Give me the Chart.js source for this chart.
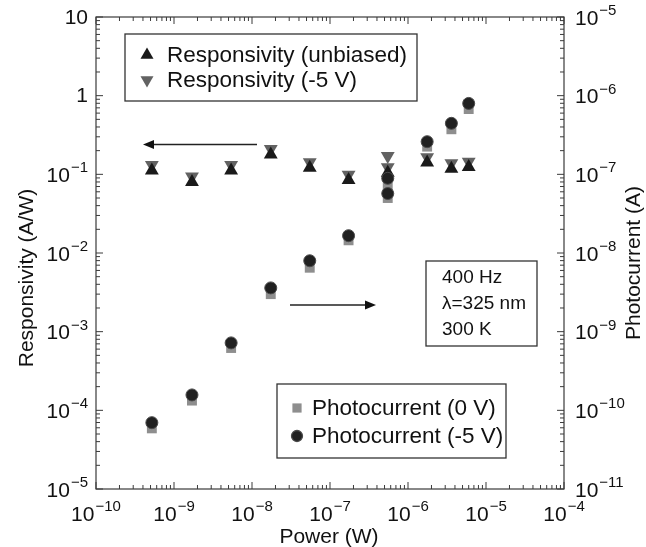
<!DOCTYPE html>
<html>
<head>
<meta charset="utf-8">
<script src="https://cdn.jsdelivr.net/npm/chart.js@4"></script>
<style>
html, body { margin: 0; padding: 0; background: #fff; }
#wrap { width: 646px; height: 547px; }
</style>
</head>
<body>
<div id="wrap"><canvas id="chart" width="646" height="547"></canvas></div>
<script>
// incident power (W)
const power = [5.2e-10, 1.7e-9, 5.4e-9, 1.74e-8, 5.5e-8, 1.73e-7, 5.5e-7, 1.76e-6, 3.6e-6, 6.0e-6];
// responsivity (A/W), left axis
const respUnbiased = [0.112, 0.080, 0.112, 0.179, 0.121, 0.085, 0.105, 0.141, 0.118, 0.124];
const respMinus5 = [0.131, 0.094, 0.131, 0.210, 0.142, 0.099, 0.123, 0.165, 0.138, 0.145];
// second -5 V reading at 5.5e-7 W
const extraPower = [5.5e-7];
const respMinus5Extra = [0.171];
// photocurrent (A), right axis
const photo0V = [5.9e-11, 1.33e-10, 6.2e-10, 3.0e-9, 6.5e-9, 1.45e-8, 5.0e-8, 2.25e-7, 3.74e-7, 6.76e-7];
const photoMinus5 = [6.97e-11, 1.57e-10, 7.2e-10, 3.6e-9, 7.97e-9, 1.66e-8, 5.7e-8, 2.6e-7, 4.45e-7, 7.97e-7];
const photo0VExtra = [7.4e-8];
const photoMinus5Extra = [8.9e-8];

const legendTop = ['Responsivity (unbiased)', 'Responsivity (-5 V)'];
const legendBottom = ['Photocurrent (0 V)', 'Photocurrent (-5 V)'];
const noteLines = ['400 Hz', '\u03bb=325 nm', '300 K'];
const xTitle = 'Power (W)';
const yTitle = 'Responsivity (A/W)';
const y2Title = 'Photocurrent (A)';

const FONT = '"Liberation Sans", Arial, Helvetica, sans-serif';

function pts(xs, ys) {
    return xs.map((x, i) => ({ x: x, y: ys[i] }));
}

// tick positions on a log scale, found through the scale itself
function logTicks(scale) {
    const out = [];
    const lo = Math.floor(Math.log10(scale.min) + 1e-9);
    const hi = Math.ceil(Math.log10(scale.max) - 1e-9);
    for (let e = lo; e <= hi; e++) {
        for (let m = 1; m < 10; m++) {
            const v = m * Math.pow(10, e);
            if (v < scale.min * 0.999 || v > scale.max * 1.001) continue;
            out.push({ exp: e, major: m === 1, px: scale.getPixelForValue(v) });
        }
    }
    return out;
}

// "10" with a raised exponent
function drawPow(ctx, exp, x, y, align) {
    let base = '10', ex = null;
    if (exp === 0) base = '1';
    else if (exp !== 1) ex = '\u2212' + Math.abs(exp);
    ctx.font = '21px ' + FONT;
    const bw = ctx.measureText(base).width;
    ctx.font = '15px ' + FONT;
    const ew = ex ? ctx.measureText(ex).width + 1 : 0;
    const w = bw + ew;
    let x0 = x;
    if (align === 'right') x0 = x - w;
    else if (align === 'center') x0 = x - w / 2;
    const yb = ex ? y + 2 : y + 1;
    ctx.textAlign = 'left';
    ctx.textBaseline = 'middle';
    ctx.font = '21px ' + FONT;
    ctx.fillText(base, x0, yb);
    if (ex) {
        ctx.font = '15px ' + FONT;
        ctx.fillText(ex, x0 + bw + 1, yb - 8);
    }
}

function arrow(ctx, x1, y, x2) {
    const dir = x2 > x1 ? 1 : -1;
    ctx.beginPath();
    ctx.moveTo(x1, y);
    ctx.lineTo(x2 - dir * 8, y);
    ctx.stroke();
    ctx.beginPath();
    ctx.moveTo(x2, y);
    ctx.lineTo(x2 - dir * 11, y - 4.5);
    ctx.lineTo(x2 - dir * 11, y + 4.5);
    ctx.closePath();
    ctx.fill();
}

const decorations = {
    id: 'decorations',
    afterDraw(chart) {
        const ctx = chart.ctx;
        const a = chart.chartArea;
        const sx = chart.scales.x, sy = chart.scales.y, sy2 = chart.scales.y2;
        ctx.save();
        ctx.strokeStyle = '#3a3a3a';
        ctx.fillStyle = '#111';
        ctx.lineWidth = 1.2;
        ctx.strokeRect(a.left, a.top, a.right - a.left, a.bottom - a.top);

        // inward ticks on all four sides
        ctx.lineWidth = 1;
        ctx.beginPath();
        logTicks(sx).forEach(t => {
            const len = t.major ? 7 : 4;
            ctx.moveTo(t.px, a.bottom); ctx.lineTo(t.px, a.bottom - len);
            ctx.moveTo(t.px, a.top); ctx.lineTo(t.px, a.top + len);
        });
        logTicks(sy).forEach(t => {
            const len = t.major ? 7 : 4;
            ctx.moveTo(a.left, t.px); ctx.lineTo(a.left + len, t.px);
        });
        logTicks(sy2).forEach(t => {
            const len = t.major ? 7 : 4;
            ctx.moveTo(a.right, t.px); ctx.lineTo(a.right - len, t.px);
        });
        ctx.stroke();

        // tick labels
        ctx.fillStyle = '#111';
        logTicks(sx).filter(t => t.major).forEach(t => drawPow(ctx, t.exp, t.px, a.bottom + 24, 'center'));
        logTicks(sy).filter(t => t.major).forEach(t => drawPow(ctx, t.exp, a.left - 8, t.px, 'right'));
        logTicks(sy2).filter(t => t.major).forEach(t => drawPow(ctx, t.exp, a.right + 11, t.px, 'left'));

        // axis titles
        ctx.font = '21px ' + FONT;
        ctx.textAlign = 'center';
        ctx.textBaseline = 'middle';
        ctx.fillText(xTitle, (a.left + a.right) / 2 - 1, 537);
        ctx.save();
        ctx.translate(27, 278);
        ctx.rotate(-Math.PI / 2);
        ctx.fillText(yTitle, 0, 0);
        ctx.restore();
        ctx.save();
        ctx.translate(634, 263);
        ctx.rotate(-Math.PI / 2);
        ctx.fillText(y2Title, 0, 0);
        ctx.restore();

        // legends, markers taken from the datasets
        const ds = chart.data.datasets;
        function legendBox(x, y, w, h, items, rowY, markerX, textX) {
            ctx.lineWidth = 1.3;
            ctx.strokeStyle = '#333';
            ctx.strokeRect(x, y, w, h);
            items.forEach((it, i) => {
                const d = ds[it.ds];
                ctx.fillStyle = d.backgroundColor;
                ctx.strokeStyle = d.borderColor;
                Chart.helpers.drawPoint(ctx, {
                    pointStyle: d.pointStyle,
                    rotation: d.rotation || 0,
                    radius: it.r,
                    borderWidth: d.borderWidth || 0
                }, markerX, rowY[i]);
                ctx.fillStyle = '#111';
                ctx.font = '22.5px ' + FONT;
                ctx.textAlign = 'left';
                ctx.textBaseline = 'middle';
                ctx.fillText(it.label, textX, rowY[i] + 1);
            });
        }
        legendBox(125, 34, 292, 67,
            [{ ds: 0, label: legendTop[0], r: 7.5 }, { ds: 1, label: legendTop[1], r: 7.5 }],
            [55, 80], 147, 167);
        legendBox(277, 384, 229, 74,
            [{ ds: 2, label: legendBottom[0], r: 6.5 }, { ds: 3, label: legendBottom[1], r: 5.5 }],
            [408, 436], 297, 312);

        // conditions box
        ctx.lineWidth = 1.3;
        ctx.strokeStyle = '#333';
        ctx.strokeRect(426, 261, 111, 85);
        ctx.fillStyle = '#111';
        ctx.font = '19px ' + FONT;
        ctx.textAlign = 'left';
        ctx.textBaseline = 'middle';
        noteLines.forEach((s, i) => ctx.fillText(s, 442, 278 + i * 26));

        // arrows pointing to each axis
        ctx.lineWidth = 1.3;
        ctx.strokeStyle = '#222';
        ctx.fillStyle = '#111';
        arrow(ctx, 257, 144.5, 143);
        arrow(ctx, 290, 305, 376);
        ctx.restore();
    }
};

const chart = new Chart(document.getElementById('chart'), {
    type: 'scatter',
    data: {
        datasets: [{
            label: legendTop[0],
            data: pts(power, respUnbiased),
            yAxisID: 'y',
            pointStyle: 'triangle',
            pointRadius: 8,
            backgroundColor: '#1a1a1a',
            borderColor: '#1a1a1a',
            borderWidth: 0,
            order: 3
        }, {
            label: legendTop[1],
            data: pts(power.concat(extraPower), respMinus5.concat(respMinus5Extra)),
            yAxisID: 'y',
            pointStyle: 'triangle',
            rotation: 180,
            pointRadius: 8,
            backgroundColor: '#626262',
            borderColor: '#626262',
            borderWidth: 0,
            order: 4
        }, {
            label: legendBottom[0],
            data: pts(power.concat(extraPower), photo0V.concat(photo0VExtra)),
            yAxisID: 'y2',
            pointStyle: 'rect',
            pointRadius: 7,
            backgroundColor: '#8e8e8e',
            borderColor: '#8e8e8e',
            borderWidth: 0,
            order: 2
        }, {
            label: legendBottom[1],
            data: pts(power.concat(extraPower), photoMinus5.concat(photoMinus5Extra)),
            yAxisID: 'y2',
            pointStyle: 'circle',
            pointRadius: 6,
            backgroundColor: '#202020',
            borderColor: '#4a4a4a',
            borderWidth: 1,
            order: 1
        }]
    },
    options: {
        responsive: false,
        animation: false,
        devicePixelRatio: 1,
        layout: { padding: { top: 17, left: 0, right: 0, bottom: 0 } },
        plugins: {
            legend: { display: false },
            tooltip: { enabled: false }
        },
        elements: { point: { hoverRadius: 8 } },
        scales: {
            x: {
                type: 'logarithmic',
                position: 'bottom',
                min: 1e-10,
                max: 1e-4,
                ticks: { display: false },
                grid: { display: false },
                border: { display: false },
                afterFit: s => { s.height = 58; }
            },
            y: {
                type: 'logarithmic',
                position: 'left',
                min: 1e-5,
                max: 10,
                ticks: { display: false },
                grid: { display: false },
                border: { display: false },
                afterFit: s => { s.width = 96; }
            },
            y2: {
                type: 'logarithmic',
                position: 'right',
                min: 1e-11,
                max: 1e-5,
                ticks: { display: false },
                grid: { display: false },
                border: { display: false },
                afterFit: s => { s.width = 82; }
            }
        }
    },
    plugins: [decorations]
});
</script>
</body>
</html>
